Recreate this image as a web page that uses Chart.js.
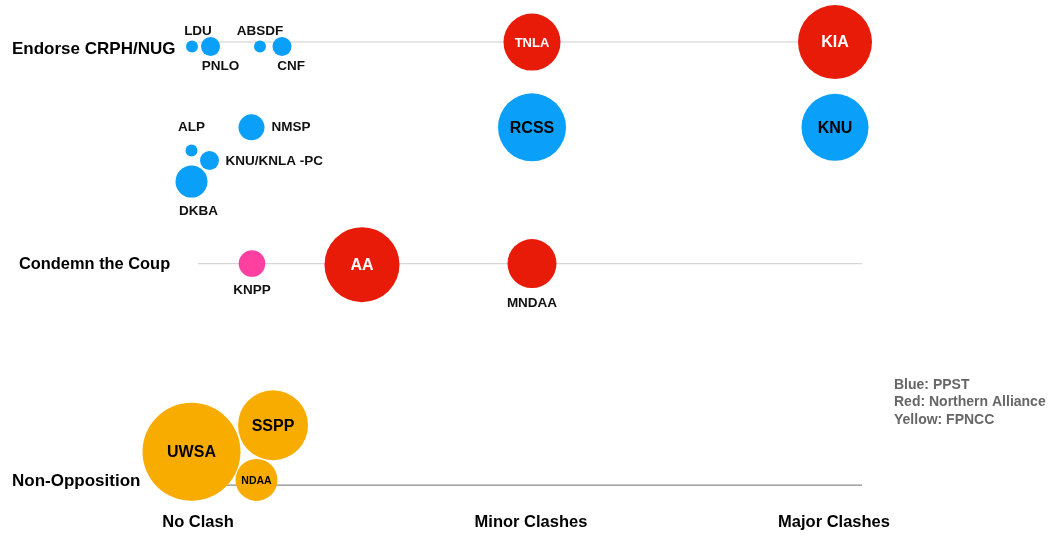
<!DOCTYPE html>
<html>
<head>
<meta charset="utf-8">
<script src="https://cdn.jsdelivr.net/npm/chart.js@4.4.1/dist/chart.umd.min.js"></script>
<style>
  body { margin: 0; background: #fff; }
  #wrap { width: 1051px; height: 536px; position: relative; }
</style>
</head>
<body>
<div id="wrap"><canvas id="chart"></canvas></div>
<script>
// axes: clash level (x) and stance (y)
const clashLabels = ['No Clash', 'Minor Clashes', 'Major Clashes'];
const clashValues = [0, 3.33, 6.36];
const stanceLabels = ['Non-Opposition', 'Condemn the Coup', 'Endorse CRPH/NUG'];
const stanceValues = [0, 1, 2];

// PPST (blue)
const ppstNames = ['LDU', 'PNLO', 'ABSDF', 'CNF', 'ALP', 'KNU/KNLA -PC', 'DKBA', 'NMSP', 'RCSS', 'KNU'];
const ppstX = [-0.06, 0.125, 0.62, 0.84, -0.065, 0.115, -0.065, 0.535, 3.34, 6.37];
const ppstY = [1.98, 1.98, 1.98, 1.98, 1.51, 1.465, 1.37, 1.615, 1.615, 1.615];
const ppstSize = [6, 9.5, 6, 9.5, 6, 9.5, 16, 13, 34, 33.5];

// Northern Alliance (red)
const northNames = ['TNLA', 'KIA', 'AA', 'MNDAA'];
const northX = [3.34, 6.37, 1.64, 3.34];
const northY = [2, 2, 0.995, 1];
const northSize = [28.5, 37, 37.5, 24.5];

// FPNCC (yellow)
const fpnccNames = ['UWSA', 'SSPP', 'NDAA'];
const fpnccX = [-0.065, 0.75, 0.585];
const fpnccY = [0.15, 0.27, 0.023];
const fpnccSize = [49, 35, 21];

// KNPP (pink)
const otherNames = ['KNPP'];
const otherX = [0.54];
const otherY = [1];
const otherSize = [13.3];

const legendLines = ['Blue: PPST', 'Red: Northern Alliance', 'Yellow: FPNCC'];

const FONT = '"Liberation Sans", Arial, Helvetica, sans-serif';

// where each bubble's name goes: inside, or offset from centre
const labelStyle = {
  'LDU': { dx: 6, dy: -15 },
  'PNLO': { dx: 10, dy: 20 },
  'ABSDF': { dx: 0, dy: -15 },
  'CNF': { dx: 9, dy: 20 },
  'ALP': { dx: 0, dy: -23 },
  'KNU/KNLA -PC': { dx: 16, dy: 1, align: 'left' },
  'DKBA': { dx: 7, dy: 30 },
  'NMSP': { dx: 20, dy: 0, align: 'left' },
  'KNPP': { dx: 0, dy: 27 },
  'MNDAA': { dx: 0, dy: 40 },
  'TNLA': { inside: true, color: '#fff', size: 13 },
  'KIA': { inside: true, color: '#fff', size: 16 },
  'AA': { inside: true, color: '#fff', size: 16 },
  'RCSS': { inside: true, color: '#000', size: 16 },
  'KNU': { inside: true, color: '#000', size: 16 },
  'UWSA': { inside: true, color: '#000', size: 16 },
  'SSPP': { inside: true, color: '#000', size: 16 },
  'NDAA': { inside: true, color: '#000', size: 10.5 }
};

function makeData(xs, ys, rs) {
  return xs.map((x, i) => ({ x: x, y: ys[i], r: rs[i] }));
}

const rowLines = [
  { value: 2, color: '#dedede', width: 1.5 },
  { value: 1, color: '#d6d6d6', width: 1.2 },
  { value: 0, color: '#8a8a8a', width: 1.2 }
];

const backgroundPlugin = {
  id: 'rows',
  beforeDatasetsDraw(chart) {
    const ctx = chart.ctx;
    const xs = chart.scales.x, ys = chart.scales.y;
    ctx.save();
    rowLines.forEach(l => {
      const y = ys.getPixelForValue(l.value);
      ctx.strokeStyle = l.color;
      ctx.lineWidth = l.width;
      ctx.beginPath();
      ctx.moveTo(xs.getPixelForValue(0), y);
      ctx.lineTo(xs.getPixelForValue(6.64), y);
      ctx.stroke();
    });
    ctx.restore();
  }
};

const labelPlugin = {
  id: 'labels',
  afterDatasetsDraw(chart) {
    const ctx = chart.ctx;
    const xs = chart.scales.x, ys = chart.scales.y;
    ctx.save();
    ctx.textBaseline = 'middle';

    // bubble names
    chart.data.datasets.forEach((ds, di) => {
      const meta = chart.getDatasetMeta(di);
      meta.data.forEach((pt, i) => {
        const name = ds.names[i];
        const st = labelStyle[name] || { dx: 0, dy: 0 };
        if (st.inside) {
          ctx.fillStyle = st.color;
          ctx.font = 'bold ' + st.size + 'px ' + FONT;
          ctx.textAlign = 'center';
          ctx.fillText(name, pt.x, pt.y + 1);
        } else {
          ctx.fillStyle = '#111';
          ctx.font = 'bold 13.5px ' + FONT;
          ctx.textAlign = st.align || 'center';
          ctx.fillText(name, pt.x + st.dx, pt.y + st.dy);
        }
      });
    });

    // row labels on the left
    const rowPos = [{ x: 12, dy: -4, size: 17 }, { x: 19, dy: 1, size: 16.4 }, { x: 12, dy: 7, size: 17 }];
    ctx.fillStyle = '#000';
    ctx.textAlign = 'left';
    stanceLabels.forEach((t, i) => {
      ctx.font = 'bold ' + rowPos[i].size + 'px ' + FONT;
      ctx.fillText(t, rowPos[i].x, ys.getPixelForValue(stanceValues[i]) + rowPos[i].dy);
    });

    // clash labels along the bottom
    ctx.font = 'bold 16.5px ' + FONT;
    ctx.textAlign = 'center';
    clashLabels.forEach((t, i) => {
      ctx.fillText(t, xs.getPixelForValue(clashValues[i]), ys.getPixelForValue(-0.167));
    });

    // colour key
    ctx.fillStyle = '#666';
    ctx.font = 'bold 14px ' + FONT;
    ctx.textAlign = 'left';
    legendLines.forEach((t, i) => {
      ctx.fillText(t, 894, 385 + i * 17.5);
    });
    ctx.restore();
  }
};

new Chart(document.getElementById('chart'), {
  type: 'bubble',
  data: {
    datasets: [
      { names: otherNames, data: makeData(otherX, otherY, otherSize), backgroundColor: 'rgb(255,64,160)' },
      { names: fpnccNames, data: makeData(fpnccX, fpnccY, fpnccSize), backgroundColor: 'rgb(249,172,0)' },
      { names: ppstNames, data: makeData(ppstX, ppstY, ppstSize), backgroundColor: 'rgb(10,159,248)' },
      { names: northNames, data: makeData(northX, northY, northSize), backgroundColor: 'rgb(232,26,8)' }
    ]
  },
  options: {
    responsive: true,
    maintainAspectRatio: false,
    animation: false,
    layout: { padding: 0, autoPadding: false },
    elements: { point: { borderWidth: 0, hoverBorderWidth: 0 } },
    plugins: { legend: { display: false }, tooltip: { enabled: false } },
    scales: {
      x: { type: 'linear', display: false, min: -1.98, max: 8.53 },
      y: { type: 'linear', display: false, min: -0.23, max: 2.19 }
    }
  },
  plugins: [backgroundPlugin, labelPlugin]
});
</script>
</body>
</html>
